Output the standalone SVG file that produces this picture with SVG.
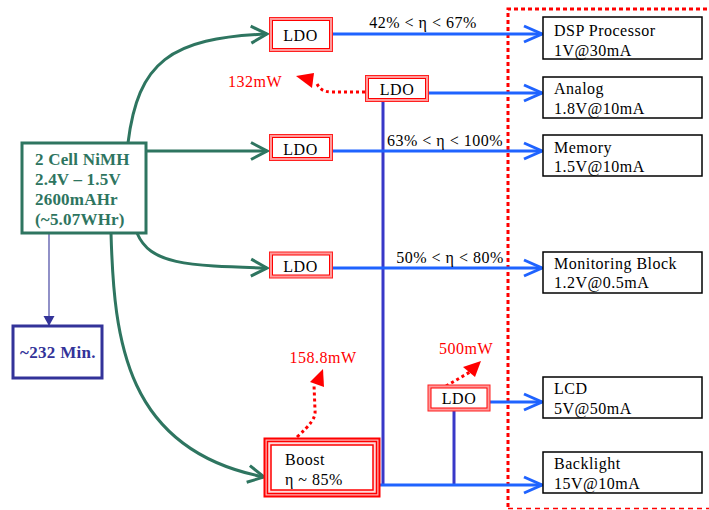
<svg xmlns="http://www.w3.org/2000/svg" width="709" height="510" viewBox="0 0 709 510">
<style>
  text { font-family: "Liberation Serif", "Times New Roman", serif; font-size: 16px; fill: #000; letter-spacing: 0.5px; }
  .bat { font-weight: bold; font-size: 17px; fill: #2e7560; letter-spacing: 0.2px; }
  .min { font-weight: bold; font-size: 17px; fill: #333399; letter-spacing: 0.3px; }
  .red { fill: #ff0000; }
  .mid { text-anchor: middle; }
  .green { fill: none; stroke: #2e7560; stroke-width: 3; }
  .blue { fill: none; stroke: #1f63ff; stroke-width: 3; }
  .navy { fill: none; stroke: #3838c8; stroke-width: 3; }
  .dot { fill: none; stroke: #ff0000; stroke-width: 3; stroke-dasharray: 3 3; }
  .ldo-o { fill: #ff9a9a; stroke: #ff2020; stroke-width: 1; }
  .ldo-i { fill: #fff; stroke: #ff0000; stroke-width: 1; }
  .load { fill: #fff; stroke: #000; stroke-width: 1.5; }
</style>
<defs>
  <marker id="ag" markerUnits="userSpaceOnUse" viewBox="-20 -11 22 22" markerWidth="22" markerHeight="22" refX="0" refY="0" orient="auto">
    <path d="M-16,-8.5 L0,0 L-16,8.5" fill="none" stroke="#2e7560" stroke-width="3"/>
  </marker>
  <marker id="ab" markerUnits="userSpaceOnUse" viewBox="-20 -11 22 22" markerWidth="22" markerHeight="22" refX="0" refY="0" orient="auto">
    <path d="M-18,-8 L0,0 L-18,8" fill="none" stroke="#1f63ff" stroke-width="3"/>
  </marker>
  <marker id="an" markerUnits="userSpaceOnUse" viewBox="-12 -7 14 14" markerWidth="14" markerHeight="14" refX="0" refY="0" orient="auto">
    <path d="M-10,-5.5 L0,0 L-10,5.5 Z" fill="#333399"/>
  </marker>
</defs>

<!-- boundary -->
<g id="boundary">
  <path d="M508,507 L508,9 L709,9" fill="none" stroke="#ff0000" stroke-width="3" stroke-dasharray="4 3"/>
  <path d="M508,508.5 L709,508.5" fill="none" stroke="#ff0000" stroke-width="1.5" stroke-dasharray="5 4"/>
</g>

<g id="connectors">
  <!-- battery to regulators -->
  <path class="green" d="M128,143 C138,62 170,38 267,34" marker-end="url(#ag)"/>
  <path class="green" d="M146,151 L267,151" marker-end="url(#ag)"/>
  <path class="green" d="M137,233 C150,264 185,266 267,268" marker-end="url(#ag)"/>
  <path class="green" d="M111,233 C114,340 125,450 264,477" marker-end="url(#ag)"/>
  <!-- battery to life -->
  <path d="M49,233 L49,326" fill="none" stroke="#5555aa" stroke-width="1.3" marker-end="url(#an)"/>
  <!-- navy supply rails -->
  <path class="navy" d="M383,101 L383,485"/>
  <path class="navy" d="M454,411 L454,485"/>
  <!-- blue outputs -->
  <path class="blue" d="M332,34 L542,34" marker-end="url(#ab)"/>
  <path class="blue" d="M428,93 L542,93" marker-end="url(#ab)"/>
  <path class="blue" d="M332,151 L542,151" marker-end="url(#ab)"/>
  <path class="blue" d="M332,268 L542,268" marker-end="url(#ab)"/>
  <path class="blue" d="M490,402 L542,402" marker-end="url(#ab)"/>
  <path class="blue" d="M380,485 L542,485" marker-end="url(#ab)"/>
  <!-- loss arrows -->
  <path class="dot" d="M365,92 L332,92 C322,92 319,88 316,82"/>
  <polygon points="296,76 314,73 312,88" fill="#ff0000"/>
  <path class="dot" d="M297,437 C310,425 316,418 315,410 L314,385"/>
  <polygon points="323,369 310,382 324,387" fill="#ff0000"/>
  <path class="dot" d="M446,386 L470,372"/>
  <polygon points="481,361 463,367 475,377" fill="#ff0000"/>
</g>

<!-- labels -->
<g id="labels">
  <text x="423" y="28" class="mid">42% &lt; η &lt; 67%</text>
  <text x="445" y="146" class="mid">63% &lt; η &lt; 100%</text>
  <text x="450" y="263" class="mid">50% &lt; η &lt; 80%</text>
  <text x="255" y="87" class="red mid">132mW</text>
  <text x="323" y="363" class="red mid">158.8mW</text>
  <text x="466" y="354" class="red mid">500mW</text>
</g>

<g id="battery">
  <rect x="22" y="143" width="124" height="90" fill="#fff" stroke="#2e7560" stroke-width="3"/>
  <text x="35" y="165" class="bat">2 Cell NiMH</text>
  <text x="35" y="185" class="bat">2.4V – 1.5V</text>
  <text x="35" y="205" class="bat">2600mAHr</text>
  <text x="35" y="225" class="bat">(~5.07WHr)</text>
</g>

<g id="life">
  <rect x="13" y="326" width="89" height="52" fill="#fff" stroke="#333399" stroke-width="3"/>
  <text x="58" y="358" class="min mid">~232 Min.</text>
</g>

<g id="ldo1">
  <rect x="269.5" y="17.5" width="63" height="34" class="ldo-o"/>
  <rect x="272.5" y="20.5" width="57" height="28" class="ldo-i"/>
  <text x="300.5" y="40.7" class="mid">LDO</text>
</g>
<g id="ldo2">
  <rect x="365.5" y="75.5" width="63" height="26" class="ldo-o"/>
  <rect x="368.5" y="78.5" width="57" height="20" class="ldo-i"/>
  <text x="397" y="95" class="mid">LDO</text>
</g>
<g id="ldo3">
  <rect x="269.5" y="134.5" width="63" height="26" class="ldo-o"/>
  <rect x="272.5" y="137.5" width="57" height="20" class="ldo-i"/>
  <text x="300.5" y="155" class="mid">LDO</text>
</g>
<g id="ldo4">
  <rect x="269.5" y="252" width="63" height="26" class="ldo-o"/>
  <rect x="272.5" y="255" width="57" height="20" class="ldo-i"/>
  <text x="300.5" y="271.7" class="mid">LDO</text>
</g>
<g id="ldo5">
  <rect x="428" y="385" width="62" height="26" class="ldo-o"/>
  <rect x="431" y="388" width="56" height="20" class="ldo-i"/>
  <text x="459" y="404" class="mid">LDO</text>
</g>

<g id="boost">
  <rect x="264.5" y="438.5" width="115" height="58" fill="#ffb0b0" stroke="#ff0000" stroke-width="2"/>
  <rect x="267.5" y="441.5" width="109" height="52" fill="#ffdada" stroke="#ff0000" stroke-width="1.5"/>
  <rect x="271" y="445" width="102" height="45" fill="#fff" stroke="#ff0000" stroke-width="1.5"/>
  <text x="285" y="465">Boost</text>
  <text x="285" y="485">η ~ 85%</text>
</g>

<g id="dsp">
  <rect x="543" y="17" width="159" height="42" class="load"/>
  <text x="554" y="36">DSP Processor</text>
  <text x="554" y="56">1V@30mA</text>
</g>
<g id="analog">
  <rect x="543" y="77" width="159" height="41" class="load"/>
  <text x="554" y="94">Analog</text>
  <text x="554" y="114">1.8V@10mA</text>
</g>
<g id="memory">
  <rect x="543" y="135" width="159" height="41" class="load"/>
  <text x="554" y="152.5">Memory</text>
  <text x="554" y="172">1.5V@10mA</text>
</g>
<g id="monitoring">
  <rect x="543" y="252" width="159" height="41" class="load"/>
  <text x="554" y="269">Monitoring Block</text>
  <text x="554" y="288">1.2V@0.5mA</text>
</g>
<g id="lcd">
  <rect x="543" y="377" width="159" height="41" class="load"/>
  <text x="554" y="394">LCD</text>
  <text x="554" y="414">5V@50mA</text>
</g>
<g id="backlight">
  <rect x="543" y="452" width="159" height="41" class="load"/>
  <text x="554" y="469">Backlight</text>
  <text x="554" y="489">15V@10mA</text>
</g>
</svg>
